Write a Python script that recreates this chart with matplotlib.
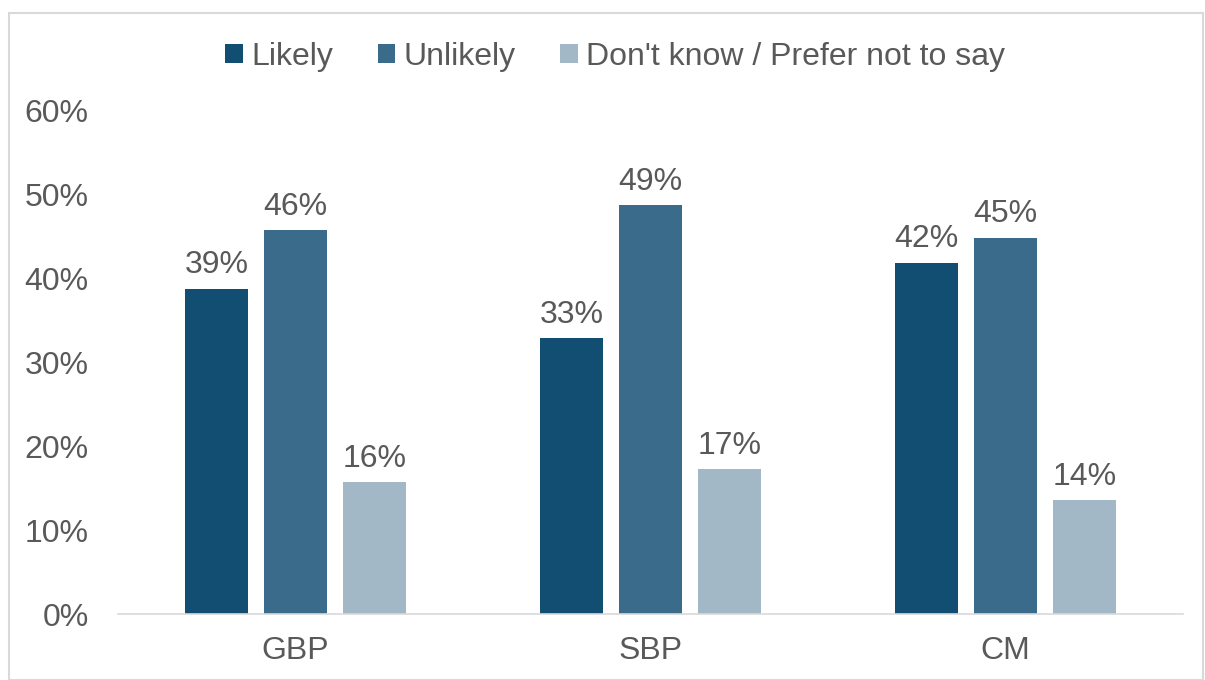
import numpy as np
import matplotlib.pyplot as plt
from matplotlib.patches import Rectangle

plt.rcParams['font.family'] = ['Liberation Sans', 'DejaVu Sans']

# data
groups = ['GBP', 'SBP', 'CM']
series = ['Likely', 'Unlikely', "Don't know / Prefer not to say"]
likely = [38.8, 32.9, 41.9]
unlikely = [45.8, 48.8, 44.9]
dont_know = [15.7, 17.3, 13.6]
yticks = [0, 10, 20, 30, 40, 50, 60]

colors = ['#114E72', '#3B6B8B', '#A2B8C7']
text_col = '#595959'
fs = 23

W, H = 1205, 680
fig = plt.figure(figsize=(W / 100, H / 100), dpi=100)
ax = fig.add_axes([118 / W, 1 - 614 / H, (1183 - 118) / W, (614 - 111) / H])

x = np.arange(len(groups))
step = 0.2225
width = 0.175
for i, (vals, name) in enumerate(zip([likely, unlikely, dont_know], series)):
    pos = x + (i - 1) * step
    ax.bar(pos, vals, width, color=colors[i], label=name, zorder=2)
    for p, v in zip(pos, vals):
        ax.annotate(f'{v:.0f}%', (p, v), xytext=(0, 6), textcoords='offset points',
                    ha='center', va='bottom', fontsize=fs, color=text_col)

ax.set_xlim(-0.5, 2.5)
ax.set_ylim(0, 60)
ax.set_yticks(yticks)
ax.set_yticklabels([f'{t}%' for t in yticks])
ax.set_xticks(x)
ax.set_xticklabels(groups)
ax.tick_params(axis='both', length=0, labelsize=fs, colors=text_col)
ax.tick_params(axis='y', pad=21)
ax.tick_params(axis='x', pad=16)
for s in ['top', 'right', 'left']:
    ax.spines[s].set_visible(False)
ax.spines['bottom'].set_color('#D9D9D9')
ax.spines['bottom'].set_linewidth(1.2)

leg = fig.legend(loc='center', bbox_to_anchor=(615 / W, 1 - 57 / H), ncol=3,
                 frameon=False, fontsize=fs, handlelength=0.55, handleheight=0.55,
                 handletextpad=0.25, columnspacing=1.4)
for t in leg.get_texts():
    t.set_color(text_col)

# outer chart border
fig.patches.append(Rectangle((9 / W, 0), (1203 - 9) / W, 1 - 13 / H,
                             transform=fig.transFigure, fill=False,
                             edgecolor='#D9D9D9', linewidth=1.5))

fig.savefig('out.png', dpi=100)
